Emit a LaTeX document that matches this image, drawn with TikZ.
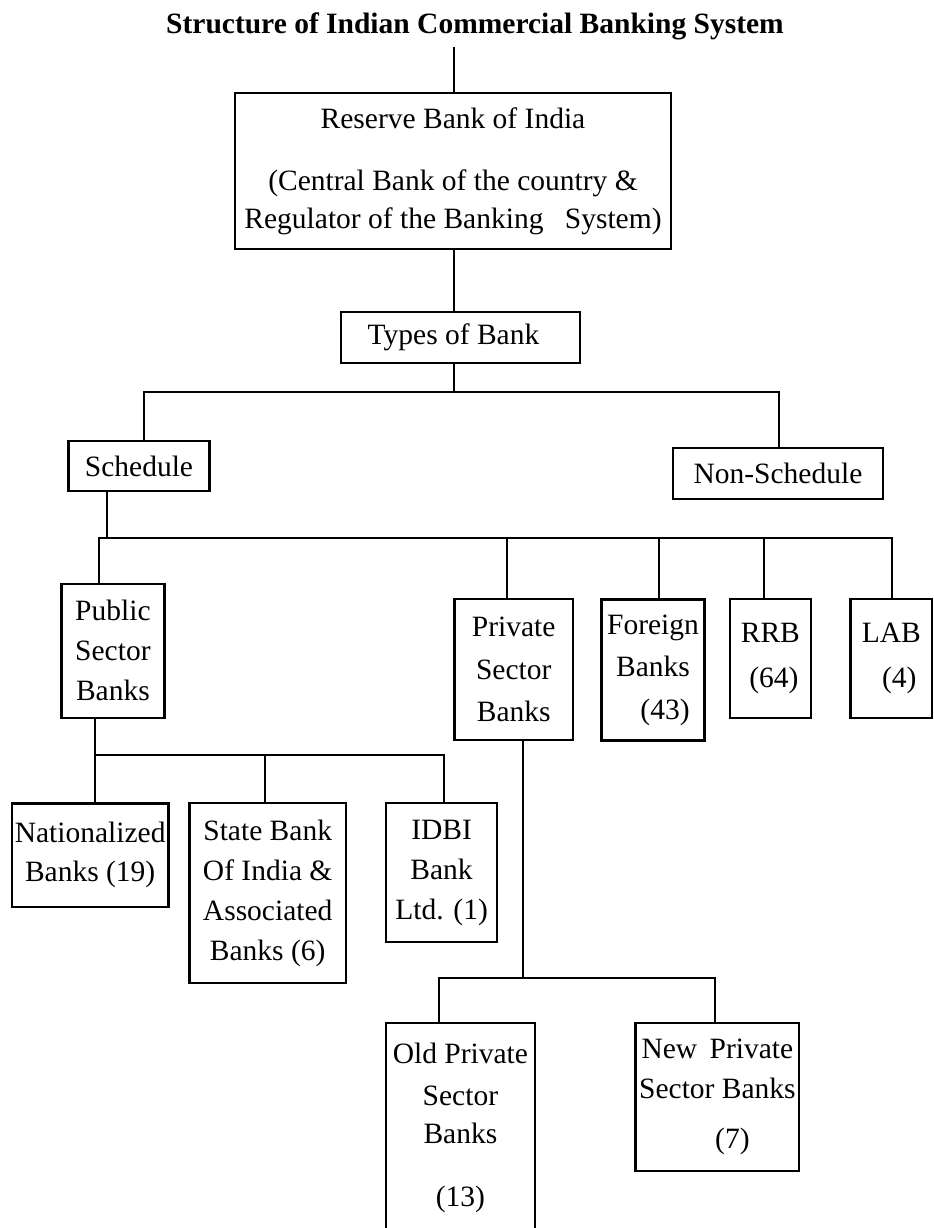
\documentclass[tikz,border=0pt]{standalone}
\usepackage{fontspec}
\setmainfont{Liberation Serif}
\usetikzlibrary{positioning}

\begin{document}
\begin{tikzpicture}[x=0.4pt, y=-0.4pt,
    box/.style={draw, line width=0.9pt, align=center, inner sep=1pt,
      font=\fontsize{11.8}{16}\selectfont},
    link/.style={line width=0.9pt}]
  \useasboundingbox (0,0) rectangle (934,1228);
  \clip (0,0) rectangle (934,1228);
  % Title
  \node (title) [font=\bfseries\fontsize{11.8}{16}\selectfont, inner sep=0pt, anchor=base]
    at (475,33) {Structure of Indian Commercial Banking System};
  % Top of the tree
  \node (rbi) [box, minimum width=174.4pt, minimum height=62.4pt] at (453,171)
    {Reserve Bank of India\\[8.8pt](Central Bank of the country \&\\[-0.8pt]Regulator of the Banking\hspace{5.6pt} System)};
  \node (types) [box, minimum width=95.6pt, minimum height=20.4pt] at (460.5,337.5) {Types of Bank\hspace*{5.6pt}};
  \node (sched) [box, minimum width=56.4pt, minimum height=20pt] at (139,466) {Schedule};
  \node (nonsched) [box, minimum width=84pt, minimum height=20.4pt] at (778,473.5) {Non-Schedule};
  % Scheduled banks
  \node (public) [box, minimum width=41.2pt, minimum height=53.6pt] at (112.9,650.7) {Public\\Sector\\Banks};
  \node (private) [box, minimum width=47.4pt, minimum height=56.4pt] at (513.7,669.8) {Private\\[1pt]Sector\\[1pt]Banks};
  \node (foreign) [box, minimum width=41.2pt, minimum height=56.4pt] at (653,670) {Foreign\\[1pt]Banks\\[1pt]\hspace*{9.6pt}(43)};
  \node (rrb) [box, minimum width=32.2pt, minimum height=47.4pt] at (770.4,658.5) {RRB\\[2pt]\hspace*{2.8pt}(64)};
  \node (lab) [box, minimum width=32.6pt, minimum height=47.4pt] at (891.3,658.5) {LAB\\[2pt]\hspace*{6.4pt}(4)};
  % Public sector banks
  \node (nat) [box, minimum width=62.7pt, minimum height=41.3pt] at (90.2,855) {Nationalized\\[-0.6pt]Banks (19)};
  \node (sbi) [box, minimum width=62.6pt, minimum height=71.8pt] at (267.7,893) {State Bank\\Of India \&\\Associated\\Banks (6)};
  \node (idbi) [box, minimum width=44.6pt, minimum height=55.4pt] at (441.6,872.5) {IDBI\\Bank\\Ltd. (1)};
  % Private sector banks
  \node (oldpvt) [box, minimum width=59.6pt, minimum height=83.7pt] at (460.4,1127.4)
    {Old Private\\[0.8pt]Sector\\[-0.8pt]Banks\\[9.2pt](13)};
  \node (newpvt) [box, minimum width=65.5pt, minimum height=59.2pt] at (717.4,1096.7)
    {New\hspace{2pt} Private\\Sector Banks\\[4pt]\hspace*{12pt}(7)};
  % Junction points
  \coordinate (top) at (454,47);
  \coordinate (j1) at (454,392);
  \coordinate (j1l) at (144,392);
  \coordinate (j1r) at (779,392);
  \coordinate (j2) at (107,538);
  \coordinate (j2l) at (99,538);
  \coordinate (j2r) at (892,538);
  \coordinate (j3) at (95.3,755);
  \coordinate (j3m) at (265,755);
  \coordinate (j3r) at (443.7,755);
  \coordinate (j4) at (523,977.7);
  \coordinate (j4l) at (439,977.7);
  \coordinate (j4r) at (715.3,977.7);
  % Connectors
  \draw[link] (top) -- (top |- rbi.north);
  \draw[link] (j1 |- rbi.south) -- (j1 |- types.north);
  \draw[link] (j1 |- types.south) -- (j1);
  \draw[link] (j1l |- sched.north) -- (j1l) -- (j1r) -- (j1r |- nonsched.north);
  \draw[link] (j2 |- sched.south) -- (j2);
  \draw[link] (j2l |- public.north) -- (j2l) -- (j2r) -- (j2r |- lab.north);
  \foreach \x/\n in {507/private, 659/foreign, 764/rrb}
    \draw[link] (\x,538) -- (\x,538 |- \n.north);
  \draw[link] (j3 |- public.south) -- (j3) -- (j3 |- nat.north);
  \draw[link] (j3) -- (j3r) -- (j3r |- idbi.north);
  \draw[link] (j3m) -- (j3m |- sbi.north);
  \draw[link] (j4 |- private.south) -- (j4);
  \draw[link] (j4l |- oldpvt.north) -- (j4l) -- (j4r) -- (j4r |- newpvt.north);
\end{tikzpicture}
\end{document}
